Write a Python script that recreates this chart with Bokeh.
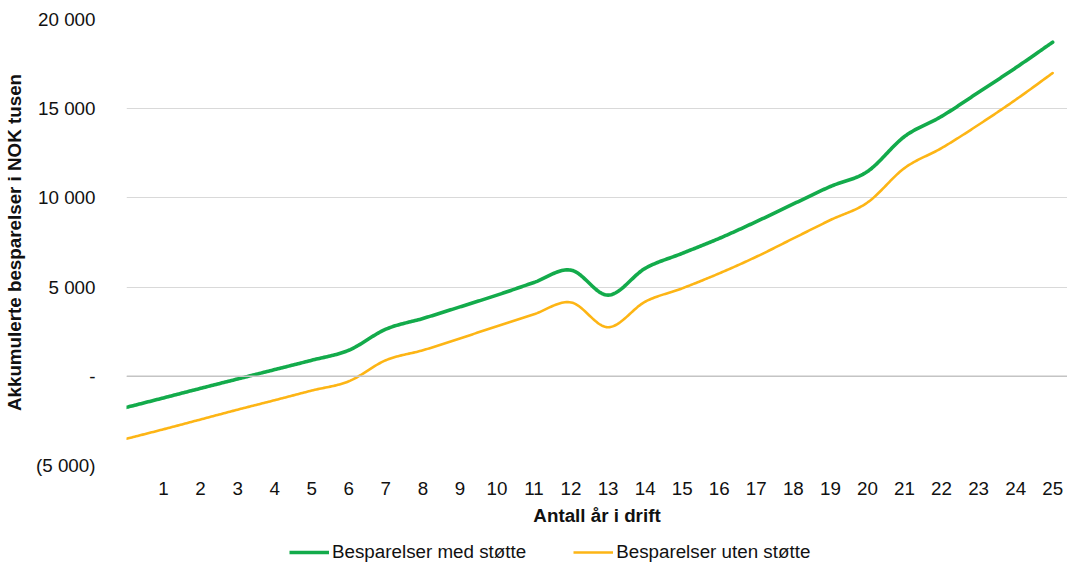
from bokeh.plotting import figure
from bokeh.layouts import column
from bokeh.models import (Range1d, FixedTicker, CustomJSTickFormatter, Span,
                          Legend, LegendItem)
from bokeh.embed import file_html
from bokeh.resources import INLINE

# ---- data ----
years = list(range(0, 26))
x_labels = [str(i) for i in range(1, 26)]
med_stotte = [-1740, -1210, -675, -150, 375, 900, 1460, 2640, 3240, 3890, 4550,
              5260, 5950, 4550, 6050, 6890, 7730, 8670, 9660, 10640, 11480,
              13440, 14570, 15920, 17290, 18730]
uten_stotte = [-3500, -2970, -2420, -1870, -1340, -800, -280, 900, 1460, 2120,
               2810, 3480, 4140, 2750, 4180, 4930, 5770, 6700, 7730, 8760, 9740,
               11670, 12790, 14100, 15500, 17000]
y_ticks = [-5000, 0, 5000, 10000, 15000, 20000]
series_names = ["Besparelser med støtte", "Besparelser uten støtte"]

FONT = "Liberation Sans"
FS = "18.8px"
GREEN = "#13AB4B"
ORANGE = "#FDB515"
W = 1067
H_MAIN = 532
H_LEG = 33
LEFT = 122


def smooth(xs, ys, steps=24):
    """Excel-like smoothed line (Catmull-Rom Bezier) through the data points."""
    n = len(xs)
    ox, oy = [], []
    for i in range(n - 1):
        x0, y0 = xs[max(i - 1, 0)], ys[max(i - 1, 0)]
        x1, y1 = xs[i], ys[i]
        x2, y2 = xs[i + 1], ys[i + 1]
        x3, y3 = xs[min(i + 2, n - 1)], ys[min(i + 2, n - 1)]
        c1x, c1y = x1 + (x2 - x0) / 6.0, y1 + (y2 - y0) / 6.0
        c2x, c2y = x2 - (x3 - x1) / 6.0, y2 - (y3 - y1) / 6.0
        for k in range(steps):
            t = k / steps
            a = (1 - t) ** 3
            b = 3 * (1 - t) ** 2 * t
            c = 3 * (1 - t) * t ** 2
            d = t ** 3
            ox.append(a * x1 + b * c1x + c * c2x + d * x2)
            oy.append(a * y1 + b * c1y + c * c2y + d * y2)
    ox.append(xs[-1])
    oy.append(ys[-1])
    return ox, oy


p = figure(width=W, height=H_MAIN, output_backend="svg", toolbar_location=None,
           x_range=Range1d(0, 25.4), y_range=Range1d(-5000, 20000),
           min_border_left=LEFT, min_border_right=0, min_border_top=19,
           min_border_bottom=H_MAIN - 465)
p.outline_line_color = None
p.background_fill_color = "white"
p.border_fill_color = "white"

# grid
p.xgrid.visible = False
p.ygrid.grid_line_color = "#d9d9d9"
p.ygrid.grid_line_width = 1.2
zero = Span(location=0, dimension="width", line_color="#c4c4c4", line_width=1.6)
p.add_layout(zero)

# axes
p.yaxis.ticker = FixedTicker(ticks=y_ticks)
p.yaxis.formatter = CustomJSTickFormatter(code="""
    if (tick == 0) { return "-"; }
    var s = Math.abs(tick).toFixed(0).replace(/\\B(?=(\\d{3})+(?!\\d))/g, " ");
    return tick < 0 ? "(" + s + ")" : s;
""")
p.xaxis.ticker = FixedTicker(ticks=list(range(1, 26)))
p.xaxis.major_label_overrides = {i + 1: lab for i, lab in enumerate(x_labels)}

for ax in (p.xaxis[0], p.yaxis[0]):
    ax.axis_line_color = None
    ax.major_tick_line_color = None
    ax.minor_tick_line_color = None
    ax.major_label_text_font = FONT
    ax.major_label_text_font_size = FS
    ax.major_label_text_color = "#111111"
    ax.axis_label_text_font = FONT
    ax.axis_label_text_font_size = FS
    ax.axis_label_text_font_style = "bold"
    ax.axis_label_text_color = "#111111"

p.xaxis.axis_label = "Antall år i drift"
p.yaxis.axis_label = "Akkumulerte besparelser i NOK tusen"
p.xaxis.major_label_standoff = 10
p.xaxis.axis_label_standoff = 7
p.yaxis.major_label_standoff = 25
p.yaxis.axis_label_standoff = 8

# lines
gx, gy = smooth(years, med_stotte)
ox, oy = smooth(years, uten_stotte)
p.line(gx, gy, line_color=GREEN, line_width=3.6, line_join="round", line_cap="round")
p.line(ox, oy, line_color=ORANGE, line_width=2.6, line_join="round", line_cap="round")

# legend strip underneath the chart (same left border so the column keeps frames aligned)
pl = figure(width=W, height=H_LEG, output_backend="svg", toolbar_location=None,
            x_range=Range1d(0, 1), y_range=Range1d(0, 1),
            x_axis_type=None, y_axis_type=None,
            min_border_left=LEFT, min_border_right=0, min_border_top=0,
            min_border_bottom=0)
pl.outline_line_color = None
pl.xgrid.visible = False
pl.ygrid.visible = False
lg = pl.line([-5, -4], [-5, -5], line_color=GREEN, line_width=3.6)
lo = pl.line([-5, -4], [-5, -5], line_color=ORANGE, line_width=2.6)
legend = Legend(items=[LegendItem(label=series_names[0], renderers=[lg]),
                       LegendItem(label=series_names[1], renderers=[lo])],
                orientation="horizontal", location=(285 - LEFT, 2),
                padding=0, margin=0, spacing=47,
                glyph_width=40, glyph_height=16, label_standoff=3,
                label_text_font=FONT, label_text_font_size=FS,
                label_text_color="#111111",
                border_line_color=None, background_fill_alpha=0)
pl.add_layout(legend, "center")

layout = column(p, pl, spacing=0)
open("out.html", "w").write(file_html(layout, INLINE))
